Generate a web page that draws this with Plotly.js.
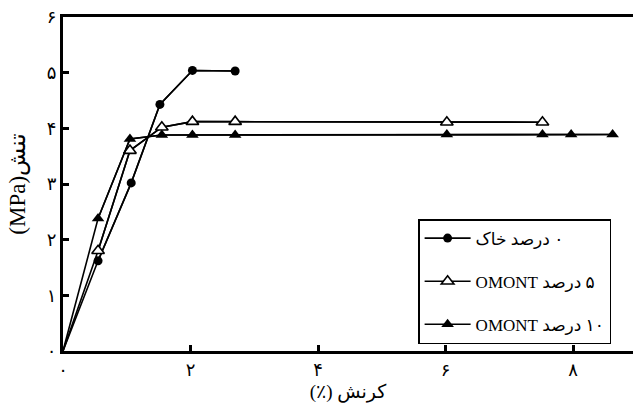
<!DOCTYPE html>
<html>
<head>
<meta charset="utf-8">
<script src="https://cdn.plot.ly/plotly-3.0.1.min.js"></script>
<style>html,body{margin:0;padding:0;background:#fff;}#chart{width:633px;height:411px;}</style>
</head>
<body>
<div id="chart"></div>
<script>
// Strain (%) and stress (MPa)
const soilStrain   = [0, 0.55, 1.07, 1.52, 2.03, 2.7];
const soilStress   = [0, 1.62, 3.02, 4.43, 5.04, 5.03];
const omont5Strain = [0, 0.55, 1.05, 1.55, 2.03, 2.7, 6.02, 7.52];
const omont5Stress = [0, 1.80, 3.60, 4.02, 4.12, 4.12, 4.11, 4.11];
const omont10Strain = [0, 0.55, 1.05, 1.55, 2.03, 2.7, 6.02, 7.52, 7.97, 8.62];
const omont10Stress = [0, 2.38, 3.81, 3.88, 3.88, 3.88, 3.89, 3.89, 3.89, 3.89];

// Persian labels (RLE ... PDF keeps right-to-left order)
const seriesNames = ['\u202B۰ درصد خاک\u202C', '\u202B۵ درصد OMONT\u202C', '\u202B۱۰ درصد OMONT\u202C'];
const xTickVals = [0, 2, 4, 6, 8];
const xTickText = ['۰', '۲', '۴', '۶', '۸'];
const yTickVals = [0, 1, 2, 3, 4, 5, 6];
const yTickText = ['۰', '۱', '۲', '۳', '۴', '۵', '۶'];
const xTitle = '(٪) کرنش';
const yTitle = '\u202Bتنش(MPa)\u202C';

const FONT = 'Liberation Serif, Times New Roman, DejaVu Sans, serif';

const series = [
  {x: soilStrain, y: soilStress, name: seriesNames[0], g: 'a',
   marker: {symbol: 'circle', color: '#000', size: 9}},
  {x: omont5Strain, y: omont5Stress, name: seriesNames[1], g: 'b',
   marker: {symbol: 'triangle-up', color: '#fff', size: 11, line: {color: '#000', width: 1.6}}},
  {x: omont10Strain, y: omont10Stress, name: seriesNames[2], g: 'c',
   marker: {symbol: 'triangle-up', color: '#000', size: 11}}
];

const traces = [];
series.forEach(s => {
  // full line from the origin (no marker at the origin)
  traces.push({x: s.x, y: s.y, mode: 'lines', legendgroup: s.g, showlegend: false,
               line: {color: '#000', width: 1.6}, hoverinfo: 'skip'});
  // measured points with markers
  traces.push({x: s.x.slice(1), y: s.y.slice(1), name: s.name, legendgroup: s.g,
               mode: 'lines+markers', line: {color: '#000', width: 1.6}, marker: s.marker});
});

const layout = {
  width: 633, height: 411,
  margin: {l: 63, r: 0, t: 17, b: 59.5},
  paper_bgcolor: '#fff', plot_bgcolor: '#fff',
  font: {family: FONT, size: 16, color: '#000'},
  showlegend: true,
  legend: {x: 0.623, y: 0.395, xanchor: 'left', yanchor: 'top',
           bgcolor: '#fff', bordercolor: '#000', borderwidth: 1.5, itemwidth: 46,
           font: {family: FONT, size: 17, color: '#000'}, tracegroupgap: 18},
  xaxis: {range: [0, 8.94], tickvals: xTickVals, ticktext: xTickText,
          showgrid: false, zeroline: false, showline: true, linecolor: '#000', linewidth: 3,
          mirror: true, ticks: 'inside', ticklen: 6, tickwidth: 3, tickcolor: '#000',
          tickfont: {family: FONT, size: 18},
          title: {text: xTitle, font: {family: FONT, size: 19}, standoff: 7}},
  yaxis: {range: [0, 6], tickvals: yTickVals, ticktext: yTickText,
          showgrid: false, zeroline: false, showline: true, linecolor: '#000', linewidth: 3,
          ticks: 'inside', ticklen: 6, tickwidth: 3, tickcolor: '#000',
          tickfont: {family: FONT, size: 18},
          title: {text: yTitle, font: {family: FONT, size: 23}, standoff: 15}}
};

Plotly.newPlot('chart', traces, layout, {displayModeBar: false, staticPlot: true});
</script>
</body>
</html>
